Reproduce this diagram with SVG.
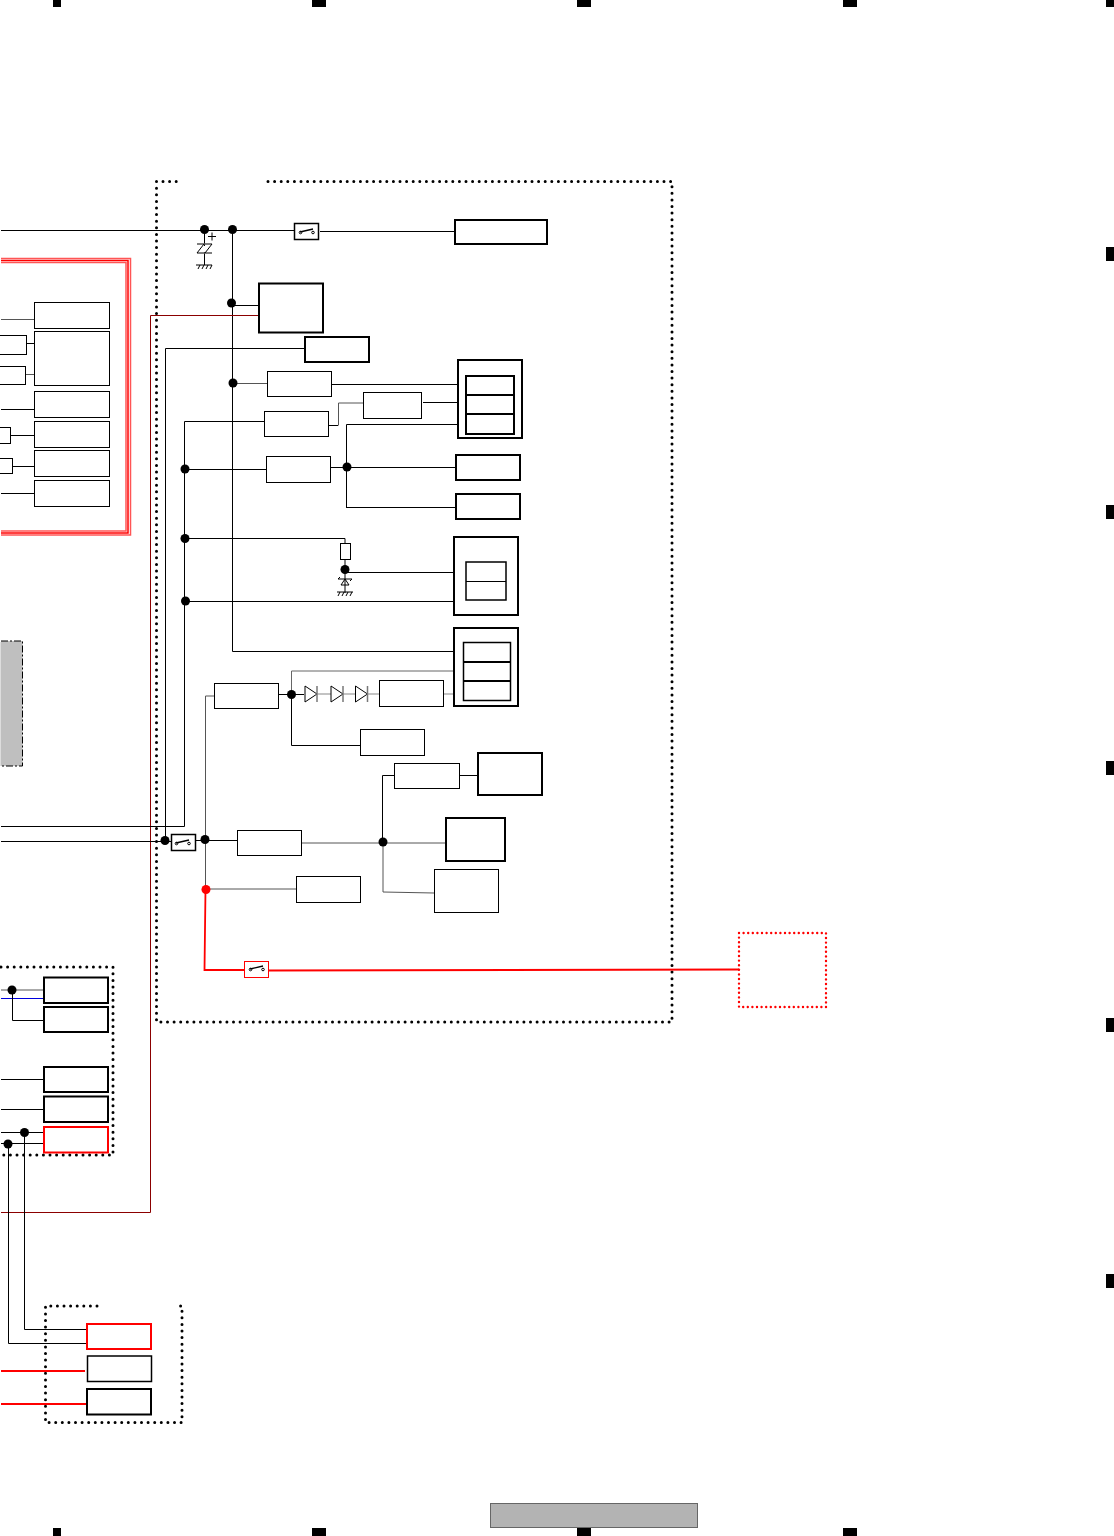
<svg xmlns="http://www.w3.org/2000/svg" width="1114" height="1536" viewBox="0 0 1114 1536">
<style>
.w{fill:none;stroke:#000;stroke-width:1}
.g{fill:none;stroke:#555;stroke-width:1}
.dr{fill:none;stroke:#8b0000;stroke-width:1}
.b1{fill:#fff;stroke:#000;stroke-width:1}
.b15{fill:#fff;stroke:#000;stroke-width:1.500}
.b2{fill:#fff;stroke:#000;stroke-width:2}
.br{fill:#fff;stroke:#f00;stroke-width:2}
.dot{fill:none;stroke:#000;stroke-width:3;stroke-linecap:round;stroke-dasharray:0 6.6}
.dotr{fill:none;stroke:#f00;stroke-width:2.400;stroke-linecap:round;stroke-dasharray:0 4.6}
.mk{fill:#000}
.j{fill:#000}
.jr{fill:#f00}
.sw{fill:none;stroke:#000;stroke-width:1}
</style>
<defs>
<g id="swg"><path class="sw" d="M-7 1L6-2" style="stroke-width:1.300"/><circle class="sw" cx="-6.500" cy="1.500" r="1.300"/><circle class="sw" cx="6" cy="1.500" r="1.300"/></g>
<g id="dio"><path d="M0-8V8L12 0Z" fill="#fff" stroke="#000" stroke-width="1"/><path d="M12-8V8" stroke="#777" stroke-width="1.500"/></g>
</defs>
<g id="marks">
<rect class="mk" x="53" y="0" width="8" height="7"/><rect class="mk" x="312" y="0" width="14" height="7"/><rect class="mk" x="577" y="0" width="14" height="7"/><rect class="mk" x="843" y="0" width="14" height="7"/><rect class="mk" x="1106" y="0" width="8" height="7"/>
<rect class="mk" x="1106" y="247" width="8" height="14"/><rect class="mk" x="1106" y="505" width="8" height="14"/><rect class="mk" x="1106" y="761" width="8" height="14"/><rect class="mk" x="1106" y="1018" width="8" height="14"/><rect class="mk" x="1106" y="1274" width="8" height="14"/>
<rect class="mk" x="53" y="1528" width="8" height="8"/><rect class="mk" x="312" y="1528" width="14" height="8"/><rect class="mk" x="577" y="1528" width="14" height="8"/><rect class="mk" x="843" y="1528" width="14" height="8"/>
</g>
<g id="frames">
<path class="dot" d="M268 181.500H672V1022H156.500V181.500H182"/>
<path class="dot" d="M1 967H113V1155H1"/>
<path class="dot" d="M97 1306H45.500V1422.500H182V1306H180"/>
<rect class="dotr" x="739" y="933" width="87" height="74"/>
<path d="M1 258.500H130.500V535H1" fill="none" stroke="#f55" stroke-width="1.500"/>
<path d="M1 260.500H128V533H1" fill="none" stroke="#f00" stroke-width="1.500"/>
<path d="M1 262.500H126V531H1" fill="none" stroke="#f55" stroke-width="1.500"/>
<rect x="0" y="642" width="1" height="124" fill="#ddd"/>
<path d="M1 641H22.500V766H1" fill="#bfbfbf" stroke="#000" stroke-width="1" stroke-dasharray="7 2 2 2"/>
<rect x="490.500" y="1503.500" width="207" height="24" fill="#b3b3b3" stroke="#666" stroke-width="1"/>
</g>
<g id="connectors">
<path class="w" d="M1 230.500H294M320 231.500H455"/>
<path class="w" d="M204.500 230V246M204.500 252V265"/>
<path d="M197 244H212M197 253H212" stroke="#555" stroke-width="1.500" fill="none"/>
<path class="w" d="M197 253L204 244M205 253L212 244"/>
<path class="w" d="M196 265H212M198 269L200 265M202 269L204 265M206 269L208 265M210 269L212 265"/>
<path class="w" d="M208 236.500H216M212 232.500V240.500"/>
<path class="w" d="M232.500 230V651.500H454"/>
<path class="w" d="M232 305.500H259"/>
<path class="dr" d="M259 315.500H150.500V1212.500H1"/>
<path class="w" d="M304 348.500H165.500V840"/>
<path class="g" d="M233 383.500H268"/>
<path class="w" d="M331 384.500H458"/>
<path class="w" d="M264 421.500H184.500V826.500H1"/>
<path class="w" d="M329 425.500H338"/>
<path class="g" d="M338.500 425.500V403H363"/>
<path class="w" d="M423 402.500H458"/>
<path class="w" d="M346.500 507V424.500H458"/>
<path class="w" d="M185 469.500H267"/>
<path class="w" d="M330 467.500H456"/>
<path class="w" d="M346 507.500H456"/>
<path class="w" d="M185 538.500H345V543M345 559V593"/>
<path class="w" d="M345 572.500H454"/>
<path class="w" d="M185 601.500H454"/>
<path class="w" d="M338 579H352M341 585H349L345 579ZM340 577L338 579M350 581L352 579M337 592H353M338 596L340 592M342 596L344 592M346 596L348 592M350 596L352 592"/>
<path d="M291.500 694V671H454" fill="none" stroke="#666" stroke-width="1"/>
<path class="w" d="M291.500 694V745.500H361"/>
<path class="w" d="M278 694.500H304"/>
<path d="M316 694H331M343 694H355M367 694H380M443 694H454" fill="none" stroke="#888" stroke-width="1.200"/>
<path class="g" d="M214 696H205.500V889"/>
<path class="w" d="M1 841.500H171M196 840.500H237"/>
<path class="g" d="M302 843H383M383 843H445"/>
<path class="w" d="M394 775.500H382.500V842"/>
<path class="w" d="M459 775.500H478"/>
<path class="g" d="M383 842V892L434 893"/>
<path class="g" d="M206 889H296"/>
<path d="M205.500 889L204.500 970H245M269 970.500L739 969.500" fill="none" stroke="#f00" stroke-width="1.800"/>
<path class="g" d="M1 319.500H34"/>
<path class="w" d="M27 343.500H34M1 409.500H34M11 435.500H34M13 466.500H34M1 493.500H34"/>
<path class="g" d="M26 374.500H34"/>
<path class="g" d="M1 990H44"/>
<path d="M1 998.500H44" stroke="#00d" stroke-width="1" fill="none"/>
<path class="w" d="M12.500 990V1020.500H44"/>
<path class="w" d="M1 1079.500H44M1 1109.500H43M1 1132.500H44M1 1143.500H43"/>
<path class="w" d="M24.500 1133V1329.500H87M8.500 1144V1343.500H87"/>
<path d="M1 1371H85M1 1404H87" fill="none" stroke="#f00" stroke-width="2"/>
</g>
<g id="n1"><rect class="b2" x="455" y="220" width="92" height="24"/></g>
<g id="n2"><rect class="b2" x="259" y="283.500" width="64" height="49"/></g>
<g id="n3"><rect class="b2" x="305" y="337" width="64" height="25"/></g>
<g id="n4"><rect class="b1" x="267.500" y="371.500" width="64" height="25"/></g>
<g id="n5"><rect class="b1" x="264.500" y="411.500" width="64" height="25"/></g>
<g id="n6"><rect class="b1" x="363.500" y="392.500" width="58" height="26"/></g>
<g id="n7"><rect class="b1" x="266.500" y="456.500" width="64" height="26"/></g>
<g id="n8"><rect class="b2" x="458" y="360" width="64" height="78"/><rect class="b2" x="466" y="376" width="48" height="58"/><path class="w" style="stroke-width:2" d="M466 395H514M466 414H514"/></g>
<g id="n9"><rect class="b2" x="456" y="455" width="64" height="25"/></g>
<g id="n10"><rect class="b2" x="456" y="494" width="64" height="25"/></g>
<g id="n11"><rect class="b1" x="340.500" y="543.500" width="10" height="16"/></g>
<g id="n12"><rect class="b2" x="454" y="537" width="64" height="78"/><rect class="b15" x="466" y="562" width="40" height="38"/><path class="w" d="M466 581.500H506"/></g>
<g id="n13"><rect class="b2" x="454" y="628" width="64" height="78"/><rect class="b15" x="463.500" y="642.500" width="47" height="58"/><path class="w" style="stroke-width:2" d="M463 662H511M463 681H511"/></g>
<g id="n14"><rect class="b1" x="214.500" y="683.500" width="64" height="25"/></g>
<g id="n15"><rect class="b1" x="379.500" y="680.500" width="64" height="26"/></g>
<g id="n16"><rect class="b1" x="360.500" y="729.500" width="64" height="26"/></g>
<g id="n17"><rect class="b1" x="394.500" y="763.500" width="65" height="25"/></g>
<g id="n18"><rect class="b2" x="478" y="753" width="64" height="42"/></g>
<g id="n19"><rect class="b2" x="446" y="818" width="59" height="43"/></g>
<g id="n20"><rect class="b1" x="434.500" y="869.500" width="64" height="43"/></g>
<g id="n21"><rect class="b1" x="237.500" y="830.500" width="64" height="25"/></g>
<g id="n22"><rect class="b1" x="296.500" y="876.500" width="64" height="26"/></g>
<g id="sw1"><rect class="b15" x="294.500" y="223.500" width="24" height="16"/><use href="#swg" x="307" y="231"/></g>
<g id="sw2"><rect class="b15" x="171.500" y="834.500" width="24" height="16"/><use href="#swg" x="183" y="842"/></g>
<g id="sw3"><rect x="244.500" y="961.500" width="24" height="16" fill="#fff" stroke="#f00" stroke-width="1"/><use href="#swg" x="257" y="968"/></g>
<g id="diodes"><use href="#dio" x="305" y="694"/><use href="#dio" x="331" y="694"/><use href="#dio" x="355.500" y="694"/></g>
<g id="leftnodes">
<rect class="b1" x="34.500" y="302.500" width="75" height="26"/>
<rect class="b1" x="34.500" y="331.500" width="75" height="54"/>
<rect class="b1" x="-5" y="335.500" width="31.500" height="19"/>
<rect class="b1" x="-5" y="366.500" width="30.500" height="18"/>
<rect class="b1" x="34.500" y="391.500" width="75" height="26"/>
<rect class="b1" x="34.500" y="421.500" width="75" height="26"/>
<rect class="b1" x="-5" y="427.500" width="15.500" height="16"/>
<rect class="b1" x="34.500" y="450.500" width="75" height="26"/>
<rect class="b1" x="-5" y="458.500" width="17.500" height="15"/>
<rect class="b1" x="34.500" y="480.500" width="75" height="26"/>
<rect class="b2" x="44" y="977.500" width="64" height="25.500"/>
<rect class="b2" x="44" y="1007" width="64" height="25"/>
<rect class="b2" x="44" y="1067" width="64" height="25"/>
<rect class="b2" x="44" y="1096.500" width="64" height="25.500"/>
<rect class="br" x="44" y="1127" width="64" height="25.500"/>
<rect class="br" x="87" y="1324" width="64" height="25"/>
<rect class="b15" x="87.500" y="1356" width="64" height="25.500"/>
<rect class="b2" x="87" y="1389" width="64" height="25.500"/>
</g>
<g id="junctions">
<circle class="j" cx="204.500" cy="229.500" r="4.500"/><circle class="j" cx="232.500" cy="229.500" r="4.500"/><circle class="j" cx="231.500" cy="303" r="4.500"/><circle class="j" cx="233" cy="383" r="4.500"/><circle class="j" cx="185" cy="469" r="4.500"/><circle class="j" cx="347" cy="467" r="4.500"/><circle class="j" cx="185" cy="538.500" r="4.500"/><circle class="j" cx="345" cy="569.500" r="4.500"/><circle class="j" cx="185.500" cy="601" r="4.500"/><circle class="j" cx="291.500" cy="694.500" r="4.500"/><circle class="j" cx="165" cy="840.500" r="4.500"/><circle class="j" cx="205" cy="839.500" r="4.500"/><circle class="j" cx="383" cy="842" r="4.500"/><circle class="jr" cx="206" cy="889.500" r="4.500"/><circle class="j" cx="12" cy="990" r="4.500"/><circle class="j" cx="24.500" cy="1132.500" r="4.500"/><circle class="j" cx="8" cy="1144" r="4.500"/>
</g>
</svg>
